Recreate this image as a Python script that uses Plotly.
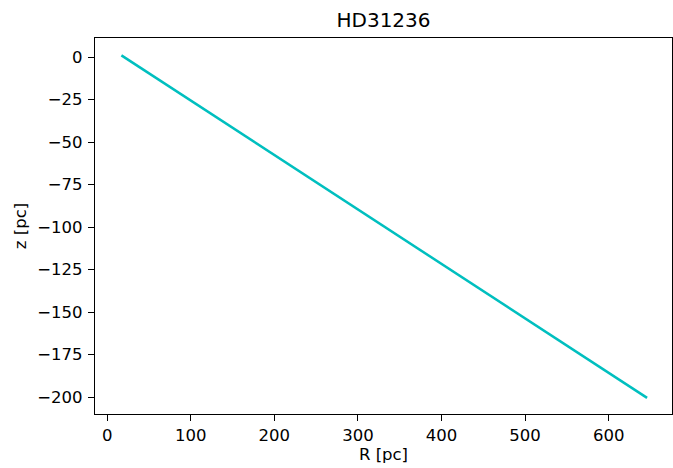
import plotly.graph_objects as go

R_pc = [17, 646]
z_pc = [1.0, -200.5]

FONT = "DejaVu Sans"
TICK_SIZE = 16.5

fig = go.Figure()
fig.add_trace(go.Scatter(x=R_pc, y=z_pc, mode="lines",
                         line=dict(color="#00BFBF", width=2.5), showlegend=False))

axis_common = dict(showline=True, mirror=True, linecolor="black", linewidth=1.3,
                   ticks="outside", ticklen=6, tickwidth=1.3, tickcolor="black",
                   showgrid=False, zeroline=False, automargin=False,
                   tickfont=dict(family=FONT, size=TICK_SIZE, color="black"))

fig.update_layout(
    width=673, height=468,
    margin=dict(l=95, r=1, t=38, b=54, autoexpand=False),
    paper_bgcolor="white", plot_bgcolor="white",
    title=dict(text="HD31236", x=0.5, xref="paper", xanchor="center",
               y=1 - 20/468, yanchor="middle",
               font=dict(family=FONT, size=20, color="black")),
    xaxis=dict(range=[-14.6, 675.8], dtick=100, tick0=0,
               title=dict(text="R [pc]", standoff=4,
                          font=dict(family=FONT, size=TICK_SIZE, color="black")),
               **axis_common),
    yaxis=dict(range=[-210, 11.2], dtick=25, tick0=0, ticklabelstandoff=2,
               title=dict(text="z [pc]", standoff=6,
                          font=dict(family=FONT, size=TICK_SIZE, color="black")),
               **axis_common),
)

fig.write_html("out.html")
